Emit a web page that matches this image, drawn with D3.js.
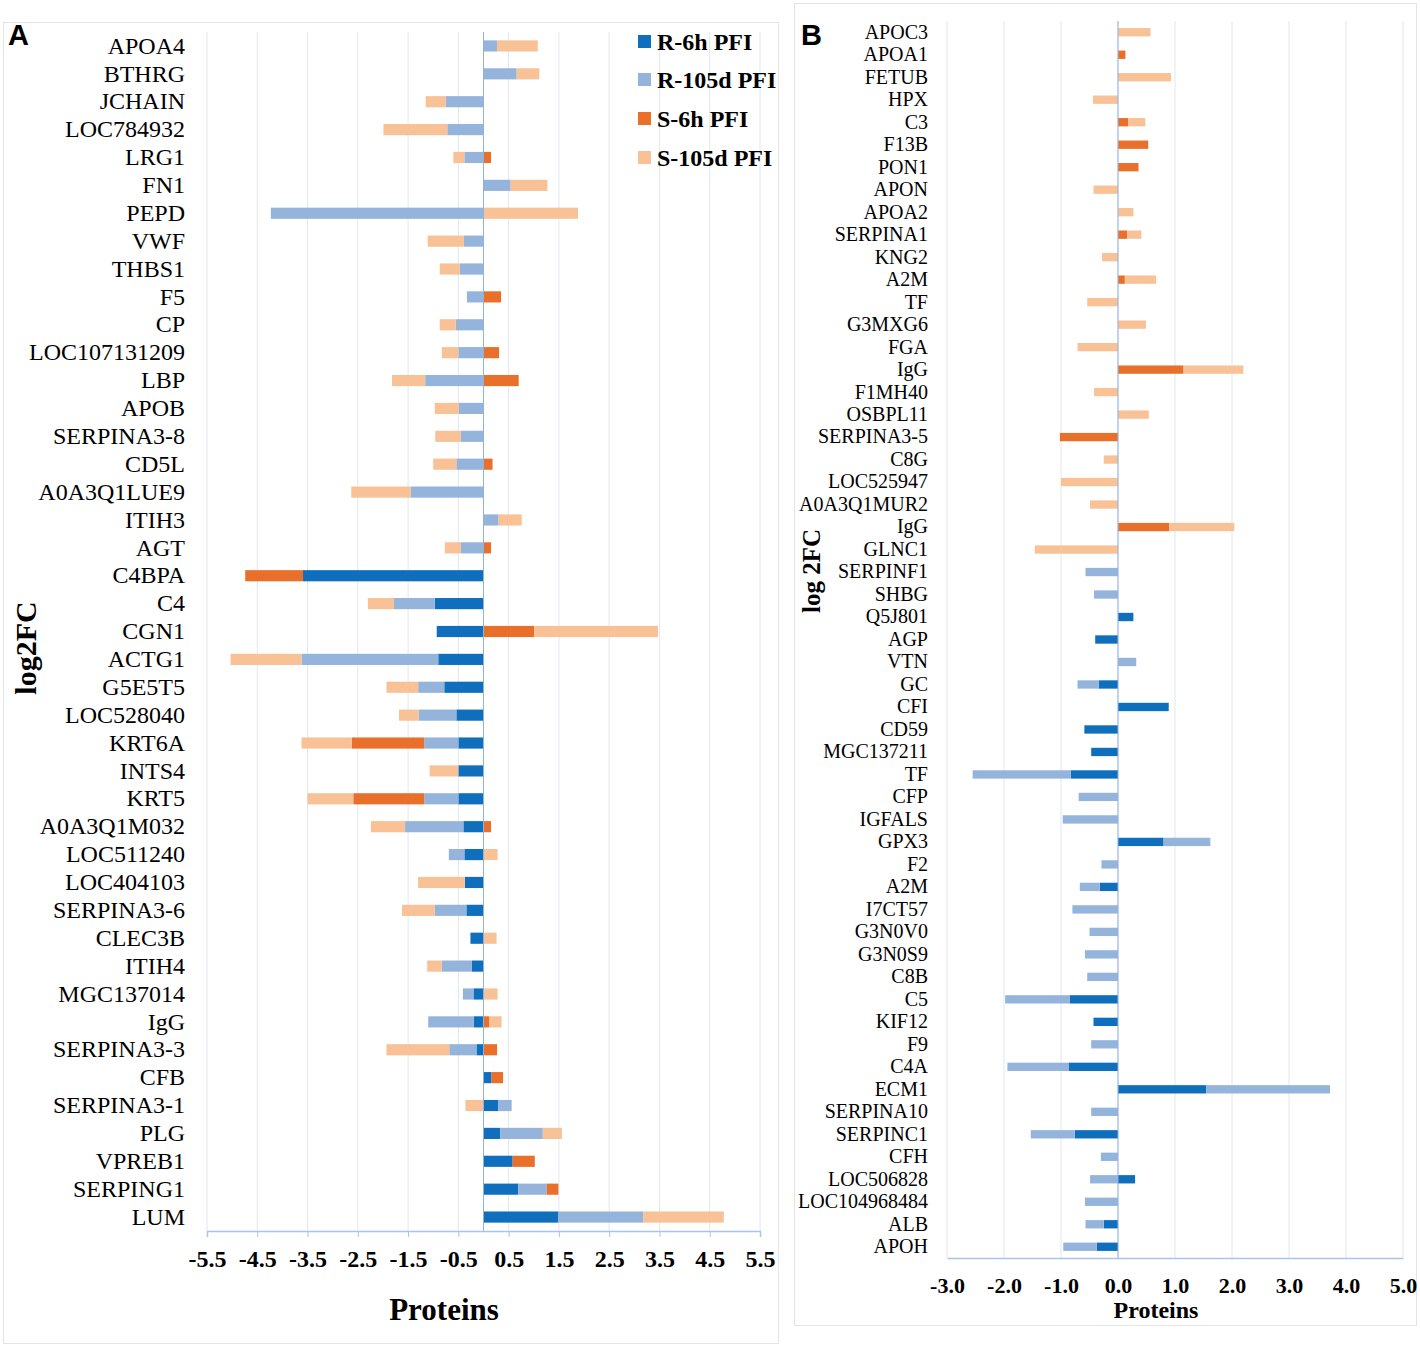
<!DOCTYPE html>
<html>
<head>
<meta charset="utf-8">
<script src="https://cdn.jsdelivr.net/npm/d3@7"></script>
<style>
  body { margin: 0; background: #fff; }
  svg { display: block; }
  text { font-family: "Liberation Serif", "Times New Roman", serif; }
</style>
</head>
<body>
<svg width="1420" height="1348"></svg>
<script>
// series order = stacking order (closest to zero first)
const seriesNames = ['R-6h PFI', 'R-105d PFI', 'S-6h PFI', 'S-105d PFI'];
const seriesColors = ['#0f6fbd', '#95b4dc', '#e8702a', '#f8c196'];

// Panel A
const catsA = ['APOA4', 'BTHRG', 'JCHAIN', 'LOC784932', 'LRG1', 'FN1', 'PEPD', 'VWF', 'THBS1', 'F5',
  'CP', 'LOC107131209', 'LBP', 'APOB', 'SERPINA3-8', 'CD5L', 'A0A3Q1LUE9', 'ITIH3', 'AGT', 'C4BPA',
  'C4', 'CGN1', 'ACTG1', 'G5E5T5', 'LOC528040', 'KRT6A', 'INTS4', 'KRT5', 'A0A3Q1M032', 'LOC511240',
  'LOC404103', 'SERPINA3-6', 'CLEC3B', 'ITIH4', 'MGC137014', 'IgG', 'SERPINA3-3', 'CFB', 'SERPINA3-1', 'PLG',
  'VPREB1', 'SERPING1', 'LUM'];
const r6hA = [0, 0, 0, 0, 0, 0, 0, 0, 0, 0,
  0, 0, 0, 0, 0, 0, 0, 0, 0, -3.59,
  -0.97, -0.93, -0.90, -0.78, -0.54, -0.50, -0.50, -0.50, -0.40, -0.38,
  -0.37, -0.34, -0.26, -0.23, -0.20, -0.19, -0.14, 0.16, 0.29, 0.33,
  0.58, 0.69, 1.49];
const r105dA = [0.27, 0.66, -0.75, -0.72, -0.38, 0.54, -4.23, -0.39, -0.47, -0.33,
  -0.55, -0.50, -1.16, -0.49, -0.45, -0.54, -1.45, 0.30, -0.45, 0,
  -0.81, 0, -2.72, -0.52, -0.75, -0.68, 0, -0.68, -1.16, -0.31,
  0, -0.63, 0, -0.60, -0.21, -0.91, -0.54, 0, 0.27, 0.85,
  0, 0.57, 1.69];
const s6hA = [0, 0, 0, 0, 0.15, 0, 0, 0, 0, 0.35,
  0, 0.31, 0.70, 0, 0, 0.18, 0, 0, 0.15, -1.15,
  0, 1.01, 0, 0, 0, -1.44, 0, -1.41, 0.15, 0,
  0, 0, 0, 0, 0, 0.12, 0.27, 0.23, 0, 0,
  0.44, 0.23, 0];
const s105dA = [0.81, 0.45, -0.40, -1.27, -0.22, 0.73, 1.88, -0.72, -0.40, 0,
  -0.32, -0.33, -0.66, -0.48, -0.51, -0.46, -1.18, 0.46, -0.32, 0,
  -0.52, 2.46, -1.41, -0.63, -0.39, -1.00, -0.57, -0.91, -0.68, 0.28,
  -0.93, -0.65, 0.26, -0.29, 0.28, 0.24, -1.25, 0, -0.36, 0.38,
  0, 0, 1.60];
const ticksA = [-5.5, -4.5, -3.5, -2.5, -1.5, -0.5, 0.5, 1.5, 2.5, 3.5, 4.5, 5.5];

// Panel B
const catsB = ['APOC3', 'APOA1', 'FETUB', 'HPX', 'C3', 'F13B', 'PON1', 'APON', 'APOA2', 'SERPINA1',
  'KNG2', 'A2M', 'TF', 'G3MXG6', 'FGA', 'IgG', 'F1MH40', 'OSBPL11', 'SERPINA3-5', 'C8G',
  'LOC525947', 'A0A3Q1MUR2', 'IgG', 'GLNC1', 'SERPINF1', 'SHBG', 'Q5J801', 'AGP', 'VTN', 'GC',
  'CFI', 'CD59', 'MGC137211', 'TF', 'CFP', 'IGFALS', 'GPX3', 'F2', 'A2M', 'I7CT57',
  'G3N0V0', 'G3N0S9', 'C8B', 'C5', 'KIF12', 'F9', 'C4A', 'ECM1', 'SERPINA10', 'SERPINC1',
  'CFH', 'LOC506828', 'LOC104968484', 'ALB', 'APOH'];
const r6hB = [0, 0, 0, 0, 0, 0, 0, 0, 0, 0,
  0, 0, 0, 0, 0, 0, 0, 0, 0, 0,
  0, 0, 0, 0, 0, 0, 0.27, -0.40, 0, -0.34,
  0.89, -0.59, -0.47, -0.83, 0, 0, 0.80, 0, -0.32, 0,
  0, 0, 0, -0.85, -0.43, 0, -0.86, 1.55, 0, -0.76,
  0, 0.30, 0, -0.25, -0.37];
const r105dB = [0, 0, 0, 0, 0, 0, 0, 0, 0, 0,
  0, 0, 0, 0, 0, 0, 0, 0, 0, 0,
  0, 0, 0, 0, -0.57, -0.42, 0, 0, 0.32, -0.37,
  0, 0, 0, -1.72, -0.69, -0.97, 0.82, -0.29, -0.35, -0.80,
  -0.50, -0.58, -0.54, -1.13, 0, -0.47, -1.08, 2.17, -0.47, -0.77,
  -0.30, -0.49, -0.58, -0.32, -0.59];
const s6hB = [0, 0.13, 0, 0, 0.18, 0.53, 0.36, 0, 0, 0.16,
  0, 0.12, 0, 0, 0, 1.15, 0, 0, -1.02, 0,
  0, 0, 0.90, 0, 0, 0, 0, 0, 0, 0,
  0, 0, 0, 0, 0, 0, 0, 0, 0, 0,
  0, 0, 0, 0, 0, 0, 0, 0, 0, 0,
  0, 0, 0, 0, 0];
const s105dB = [0.57, 0, 0.93, -0.44, 0.30, 0, 0, -0.43, 0.27, 0.25,
  -0.28, 0.55, -0.54, 0.49, -0.71, 1.05, -0.42, 0.54, 0, -0.25,
  -1.00, -0.49, 1.14, -1.46, 0, 0, 0, 0, 0, 0,
  0, 0, 0, 0, 0, 0, 0, 0, 0, 0,
  0, 0, 0, 0, 0, 0, 0, 0, 0, 0,
  0, 0, 0, 0, 0];
const ticksB = [-3, -2, -1, 0, 1, 2, 3, 4, 5];

const svg = d3.select('svg');

function drawPanel(p) {
    const rows = p.cats.map((c, i) => ({ i: i, s0: p.vals[0][i], s1: p.vals[1][i], s2: p.vals[2][i], s3: p.vals[3][i] }));
    const stack = d3.stack().keys(['s0', 's1', 's2', 's3']).offset(d3.stackOffsetDiverging)(rows);

    const x = d3.scaleLinear().domain(p.domain).range([p.left, p.right]);
    const y = d3.scaleBand()
        .domain(d3.range(p.cats.length))
        .range([p.top, p.bottom])
        .paddingInner(p.pad)
        .paddingOuter(p.pad / 2);

    // panel frame
    svg.append('rect')
        .attr('x', p.frame[0]).attr('y', p.frame[1])
        .attr('width', p.frame[2]).attr('height', p.frame[3])
        .attr('fill', 'none').attr('stroke', '#e4e4e4').attr('stroke-width', 1);

    // gridlines
    svg.append('g')
        .selectAll('line')
        .data(p.ticks)
        .join('line')
        .attr('x1', d => x(d)).attr('x2', d => x(d))
        .attr('y1', p.top).attr('y2', p.bottom)
        .attr('stroke', '#e2e7ee').attr('stroke-width', 1);

    // bars
    svg.append('g')
        .selectAll('g')
        .data(stack)
        .join('g')
        .attr('fill', (d, k) => seriesColors[k])
        .selectAll('rect')
        .data(d => d.filter(v => v[1] - v[0] !== 0))
        .join('rect')
        .attr('x', d => x(Math.min(d[0], d[1])))
        .attr('width', d => Math.abs(x(d[1]) - x(d[0])))
        .attr('y', d => y(d.data.i))
        .attr('height', y.bandwidth());

    // zero line
    svg.append('line')
        .attr('x1', x(0)).attr('x2', x(0))
        .attr('y1', p.top).attr('y2', p.bottom)
        .attr('stroke', '#8fb3e0').attr('stroke-width', 1);

    // x axis
    const xAxis = d3.axisBottom(x)
        .tickValues(p.ticks)
        .tickFormat(d => d.toFixed(1))
        .tickSize(p.tickSize)
        .tickPadding(p.tickPad);
    const gx = svg.append('g')
        .attr('transform', `translate(0, ${p.bottom})`)
        .call(xAxis);
    gx.select('.domain').attr('stroke', '#a9c4e6').attr('stroke-width', 1.5);
    gx.selectAll('.tick line').attr('stroke', '#a9c4e6');
    gx.selectAll('.tick text')
        .attr('fill', '#000')
        .style('font-family', '"Liberation Serif", serif')
        .style('font-weight', 'bold')
        .style('font-size', p.tickFont + 'px');

    // category labels
    const yAxis = d3.axisLeft(y)
        .tickFormat(i => p.cats[i])
        .tickSize(0)
        .tickPadding(p.labelPad);
    const gy = svg.append('g')
        .attr('transform', `translate(${p.left}, 0)`)
        .call(yAxis);
    gy.select('.domain').remove();
    gy.selectAll('.tick text')
        .attr('fill', '#000')
        .style('font-family', '"Liberation Serif", serif')
        .style('font-size', p.labelFont + 'px');

    // titles
    svg.append('text')
        .attr('x', p.xTitle[0]).attr('y', p.xTitle[1])
        .attr('text-anchor', 'middle')
        .style('font-weight', 'bold').style('font-size', p.xTitle[2] + 'px')
        .text('Proteins');
    svg.append('text')
        .attr('transform', `translate(${p.yTitle[0]}, ${p.yTitle[1]}) rotate(-90)`)
        .attr('text-anchor', 'middle')
        .attr('dominant-baseline', 'central')
        .style('font-weight', 'bold').style('font-size', p.yTitle[2] + 'px')
        .text(p.yTitle[3]);
    svg.append('text')
        .attr('x', p.letter[0]).attr('y', p.letter[1])
        .style('font-family', '"Liberation Sans", Arial, sans-serif')
        .style('font-weight', 'bold').style('font-size', '29px')
        .text(p.letter[2]);
}

drawPanel({
    cats: catsA, vals: [r6hA, r105dA, s6hA, s105dA],
    domain: [-5.5, 5.5], ticks: ticksA,
    left: 207, right: 760, top: 32, bottom: 1231, pad: 0.6,
    frame: [3.5, 22.5, 775, 1321],
    tickSize: 6, tickPad: 13, tickFont: 24,
    labelPad: 22, labelFont: 24,
    xTitle: [444, 1320, 31], yTitle: [25, 648, 30, 'log2FC'],
    letter: [8, 45, 'A']
});

drawPanel({
    cats: catsB, vals: [r6hB, r105dB, s6hB, s105dB],
    domain: [-3, 5], ticks: ticksB,
    left: 947, right: 1403, top: 21, bottom: 1258, pad: 0.63,
    frame: [794.5, 3.5, 622, 1322],
    tickSize: 0, tickPad: 19, tickFont: 22,
    labelPad: 19, labelFont: 20,
    xTitle: [1156, 1318, 24], yTitle: [811, 571, 25, 'log 2FC'],
    letter: [801, 45, 'B']
});

// legend (panel A)
const legendY = [42, 80, 119, 158];
const legend = svg.append('g')
    .selectAll('g')
    .data(seriesNames)
    .join('g')
    .attr('transform', (d, i) => `translate(638, ${legendY[i]})`);
legend.append('rect')
    .attr('x', 0).attr('y', -7)
    .attr('width', 13).attr('height', 13)
    .attr('fill', (d, i) => seriesColors[i]);
legend.append('text')
    .attr('x', 19).attr('y', 0)
    .attr('dominant-baseline', 'central')
    .style('font-weight', 'bold').style('font-size', '24px')
    .text(d => d);
</script>
</body>
</html>
